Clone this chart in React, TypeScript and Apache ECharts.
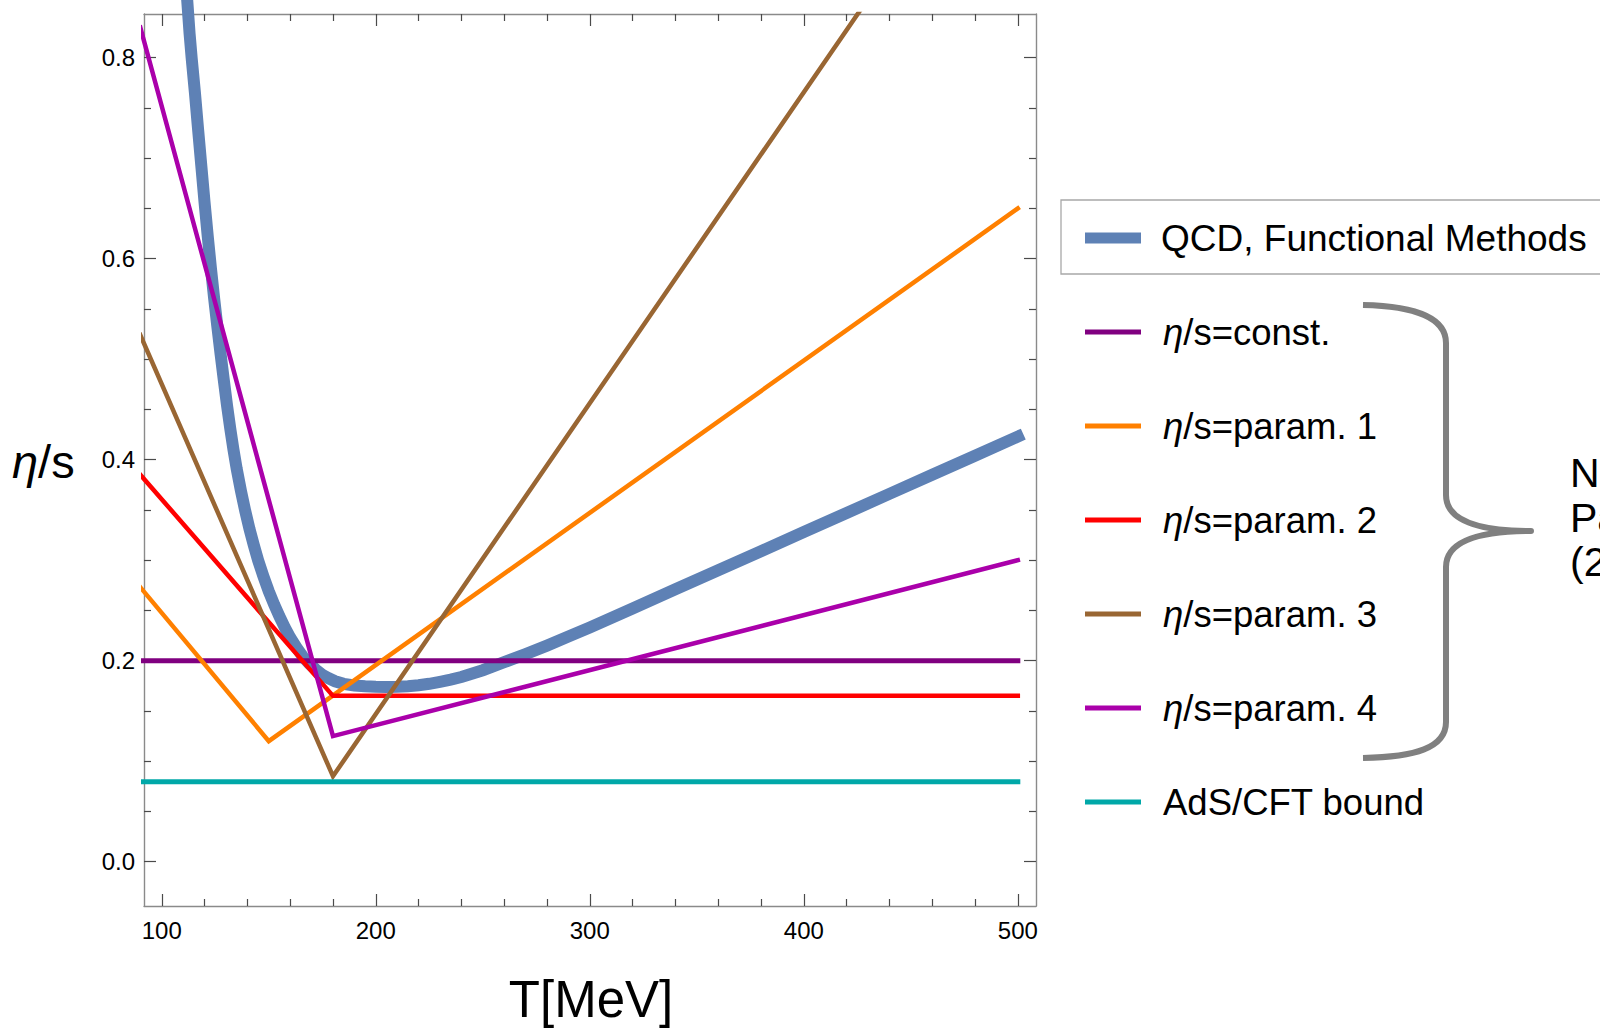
import React, { useEffect, useRef } from 'react';
import * as echarts from 'echarts';

const FONT = '"Liberation Sans", Arial, Helvetica, sans-serif';

// Axis ticks
const X_MAJOR_TICKS = [100, 200, 300, 400, 500];
const X_MINOR_TICKS = [120, 140, 160, 180, 220, 240, 260, 280, 320, 340, 360, 380, 420, 440, 460, 480];
const Y_MAJOR_TICKS = [0, 0.2, 0.4, 0.6, 0.8];
const Y_MINOR_TICKS = [0.05, 0.1, 0.15, 0.25, 0.3, 0.35, 0.45, 0.5, 0.55, 0.65, 0.7, 0.75];

// Series names
const NAME_QCD = 'QCD, Functional Methods';
const NAME_CONST = 'η/s=const.';
const NAME_P1 = 'η/s=param. 1';
const NAME_P2 = 'η/s=param. 2';
const NAME_P3 = 'η/s=param. 3';
const NAME_P4 = 'η/s=param. 4';
const NAME_ADS = 'AdS/CFT bound';

// QCD functional methods curve
const QCD_T = [
  111.8, 113, 114, 115.5, 117, 118.5, 120, 121.5, 123, 124.5, 126, 127.5, 129, 130.5, 132, 133.5, 135, 137, 139,
  141, 143, 145, 147.5, 150, 152.5, 155, 157.5, 160, 163, 166, 169, 172, 175, 178, 181, 185, 190, 195, 200, 205,
  210, 215, 220, 225, 230, 235, 240, 250, 260, 270, 280, 290, 300, 320, 340, 360, 380, 400, 420, 440, 460, 480, 500,
];
const QCD_ETA_S = [
  0.86, 0.824, 0.799, 0.765, 0.728, 0.692, 0.656, 0.622, 0.59, 0.56, 0.532, 0.505, 0.479, 0.454, 0.431, 0.41, 0.391,
  0.369, 0.349, 0.331, 0.315, 0.3, 0.284, 0.269, 0.256, 0.244, 0.233, 0.223, 0.213, 0.204, 0.197, 0.191, 0.186,
  0.1825, 0.1795, 0.177, 0.1753, 0.1745, 0.174, 0.1738, 0.174, 0.1745, 0.1755, 0.177, 0.179, 0.1812, 0.1838,
  0.1905, 0.1985, 0.2065, 0.215, 0.224, 0.233, 0.252, 0.271, 0.29, 0.309, 0.328, 0.347, 0.366, 0.385, 0.404, 0.423,
];

// Constant
const CONST_T = [90, 500];
const CONST_ETA_S = [0.2, 0.2];

// Parametrisations
const P1_T = [90, 150, 500];
const P1_ETA_S = [0.273, 0.12, 0.65];
const P2_T = [90, 180, 500];
const P2_ETA_S = [0.385, 0.165, 0.165];
const P3_T = [90, 180, 500];
const P3_ETA_S = [0.524, 0.085, 1.075];
const P4_T = [90, 180, 500];
const P4_ETA_S = [0.83, 0.125, 0.3];

// AdS/CFT bound 1/(4π)
const ADS_T = [90, 500];
const ADS_ETA_S = [0.0796, 0.0796];

const X_MIN = 91.7;
const X_MAX = 508.5;
const Y_MIN = -0.0441;
const Y_MAX = 0.8435;

const BRACE_D =
  'M 1363 305 C 1415 306 1446 318 1446 343 L 1446 495 C 1446 521 1478 531 1531 531 C 1478 531 1446 541 1446 567 L 1446 722 C 1446 748 1415 757 1363 758';

const pair = (xs: number[], ys: number[]) => xs.map((x, i) => [x, ys[i]]);

const frameLine = { show: true, onZero: false, lineStyle: { color: '#8a8a8a', width: 1.4 } };
const noLine = { show: false, onZero: false };
const tickStyle = { color: '#4a4a4a', width: 1.2 };
const labelStyle = { color: '#000', fontSize: 24, fontFamily: FONT };

function makeXAxis(position: string, minor: boolean, labels: boolean) {
  return {
    type: 'value',
    min: X_MIN,
    max: X_MAX,
    position,
    splitLine: { show: false },
    axisLine: minor ? noLine : frameLine,
    axisTick: {
      show: true,
      inside: true,
      length: minor ? 7 : 12,
      customValues: minor ? X_MINOR_TICKS : X_MAJOR_TICKS,
      lineStyle: tickStyle,
    },
    axisLabel: labels
      ? { show: true, customValues: X_MAJOR_TICKS, margin: 12, ...labelStyle }
      : { show: false },
  };
}

function makeYAxis(position: string, minor: boolean, labels: boolean) {
  return {
    type: 'value',
    min: Y_MIN,
    max: Y_MAX,
    position,
    splitLine: { show: false },
    axisLine: minor ? noLine : frameLine,
    axisTick: {
      show: true,
      inside: true,
      length: minor ? 7 : 12,
      customValues: minor ? Y_MINOR_TICKS : Y_MAJOR_TICKS,
      lineStyle: tickStyle,
    },
    axisLabel: labels
      ? {
          show: true,
          customValues: Y_MAJOR_TICKS,
          margin: 9,
          formatter: (v: number) => v.toFixed(1),
          ...labelStyle,
        }
      : { show: false },
  };
}

function lineSeries(name: string, xs: number[], ys: number[], color: string, width: number, clip = true) {
  return {
    name,
    type: 'line',
    xAxisIndex: 0,
    yAxisIndex: 0,
    data: pair(xs, ys),
    showSymbol: false,
    symbol: 'none',
    smooth: false,
    clip,
    silent: true,
    color,
    lineStyle: { color, width, cap: 'square', join: 'miter' },
  };
}

const italicEta = (name: string) => name.replace('η', '{i|η}');

export default function App() {
  const ref = useRef<HTMLDivElement>(null);

  useEffect(() => {
    if (!ref.current) return;
    echarts.graphic.registerShape('brace', echarts.graphic.extendPath(BRACE_D, {}));
    const chart = echarts.init(ref.current, null, { renderer: 'svg' });

    const option: any = {
      animation: false,
      backgroundColor: '#ffffff',
      grid: { left: 144, top: 14, width: 892, height: 892, containLabel: false },
      xAxis: [
        makeXAxis('bottom', false, true),
        makeXAxis('bottom', true, false),
        makeXAxis('top', false, false),
        makeXAxis('top', true, false),
      ],
      yAxis: [
        makeYAxis('left', false, true),
        makeYAxis('left', true, false),
        makeYAxis('right', false, false),
        makeYAxis('right', true, false),
      ],
      legend: [
        {
          data: [NAME_QCD],
          orient: 'vertical',
          left: 1061,
          top: 200,
          padding: [18, 23, 16, 24],
          borderColor: '#a8a8a8',
          borderWidth: 1.3,
          itemWidth: 56,
          itemHeight: 11,
          icon: 'rect',
          selectedMode: false,
          textStyle: { fontSize: 37, fontFamily: FONT, color: '#000', lineHeight: 40, padding: [0, 0, 0, 15] },
        },
        {
          data: [NAME_CONST, NAME_P1, NAME_P2, NAME_P3, NAME_P4, NAME_ADS],
          orient: 'vertical',
          left: 1085,
          top: 312,
          padding: 0,
          itemGap: 54,
          itemWidth: 56,
          itemHeight: 5,
          icon: 'rect',
          selectedMode: false,
          formatter: italicEta,
          textStyle: {
            fontSize: 36.5,
            fontFamily: FONT,
            color: '#000',
            lineHeight: 40,
            padding: [0, 0, 0, 17],
            rich: {
              i: { fontStyle: 'italic', fontSize: 36.5, fontFamily: FONT, color: '#000', lineHeight: 40 },
            },
          },
        },
      ],
      series: [
        lineSeries(NAME_QCD, QCD_T, QCD_ETA_S, '#5e81b5', 12, false),
        lineSeries(NAME_CONST, CONST_T, CONST_ETA_S, '#800080', 5),
        lineSeries(NAME_P1, P1_T, P1_ETA_S, '#ff8000', 4.5),
        lineSeries(NAME_P2, P2_T, P2_ETA_S, '#ff0000', 4.5),
        lineSeries(NAME_P3, P3_T, P3_ETA_S, '#996633', 4.5),
        lineSeries(NAME_P4, P4_T, P4_ETA_S, '#aa00aa', 4.5),
        lineSeries(NAME_ADS, ADS_T, ADS_ETA_S, '#00a8a8', 5),
      ],
      graphic: [
        {
          type: 'text',
          x: 12,
          y: 461,
          silent: true,
          style: {
            text: '{i|η}/s',
            fontSize: 47,
            fontFamily: FONT,
            fill: '#000',
            verticalAlign: 'middle',
            rich: { i: { fontStyle: 'italic', fontSize: 47, fontFamily: FONT, fill: '#000' } },
          },
        },
        {
          type: 'text',
          x: 591,
          y: 999,
          silent: true,
          style: {
            text: 'T[MeV]',
            fontSize: 51,
            fontFamily: FONT,
            fill: '#000',
            align: 'center',
            verticalAlign: 'middle',
          },
        },
        {
          type: 'brace',
          x: 0,
          y: 0,
          silent: true,
          style: { stroke: '#808080', lineWidth: 6, fill: 'none', lineCap: 'butt', lineJoin: 'round' },
        },
        {
          type: 'text',
          x: 1570,
          y: 451,
          silent: true,
          style: {
            text: 'Niemi, Eskola,\nPaatelainen\n(2016)',
            fontSize: 41,
            lineHeight: 44.5,
            fontFamily: FONT,
            fill: '#000',
            verticalAlign: 'top',
          },
        },
      ],
    };

    chart.setOption(option);
    return () => chart.dispose();
  }, []);

  return (
    <div
      ref={ref}
      style={{ position: 'fixed', left: 0, top: 0, width: 1600, height: 1029, background: '#fff' }}
    />
  );
}
